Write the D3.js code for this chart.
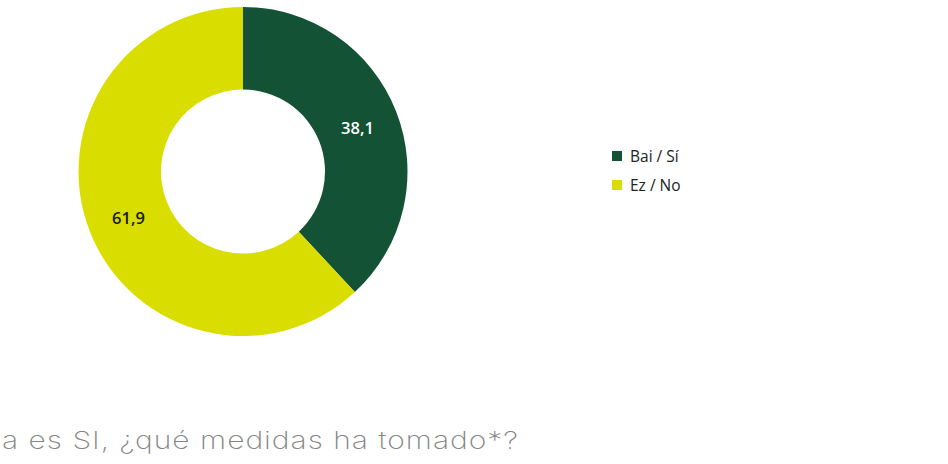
<!DOCTYPE html>
<html>
<head>
<meta charset="utf-8">
<script src="https://cdn.jsdelivr.net/npm/d3@7/dist/d3.min.js"></script>
<style>
  html, body { margin: 0; padding: 0; background: #ffffff; }
  svg { display: block; }
</style>
</head>
<body>
<svg id="chart" width="948" height="464"></svg>
<script>
// Answer categories and their shares (%)
const categories = ["Bai / Sí", "Ez / No"];
const values = [38.1, 61.9];
const valueLabels = ["38,1", "61,9"];
const sliceColors = ["#145236", "#d9de00"];
const labelColors = ["#ffffff", "#1a1a1a"];
const questionText = "a es SI, ¿qué medidas ha tomado*?";

const svg = d3.select("#chart");
const cx = 243, cy = 171.5, outerR = 164.5, innerR = 82;

const pie = d3.pie().sort(null).value(d => d.value);
const arc = d3.arc().innerRadius(innerR).outerRadius(outerR);
const labelArc = d3.arc().innerRadius(123).outerRadius(123);

const data = categories.map((c, i) => ({ name: c, value: values[i], label: valueLabels[i], i }));

const g = svg.append("g").attr("transform", `translate(${cx},${cy})`);
const slices = g.selectAll("g.slice").data(pie(data)).join("g").attr("class", "slice");

slices.append("path")
  .attr("d", arc)
  .attr("fill", d => sliceColors[d.data.i]);

slices.append("text")
  .attr("transform", d => { const [x, y] = labelArc.centroid(d); return `translate(${x},${y + 3})`; })
  .attr("text-anchor", "middle")
  .attr("dominant-baseline", "middle")
  .attr("font-family", "'Open Sans', 'Liberation Sans', sans-serif")
  .attr("font-size", 16.5)
  .attr("font-weight", 600)
  .attr("fill", d => labelColors[d.data.i])
  .text(d => d.data.label);

// Legend
const legend = svg.append("g").attr("transform", "translate(612,151)");
const items = legend.selectAll("g").data(data).join("g")
  .attr("transform", (d, i) => `translate(0,${i * 29})`);
items.append("rect").attr("width", 10).attr("height", 10)
  .attr("fill", d => sliceColors[d.i]);
items.append("text")
  .attr("x", 18).attr("y", 11)
  .attr("font-family", "'Open Sans', 'Liberation Sans', sans-serif")
  .attr("font-size", 15.5)
  .attr("fill", "#222")
  .text(d => d.name);

// Question line below the chart
svg.append("text")
  .attr("x", 2).attr("y", 449)
  .attr("font-family", "Inter, 'Open Sans', sans-serif")
  .attr("font-weight", 200)
  .attr("font-size", 24)
  .attr("letter-spacing", 0.8)
  .attr("fill", "#858585")
  .attr("textLength", 517)
  .attr("lengthAdjust", "spacingAndGlyphs")
  .text(questionText);
</script>
</body>
</html>
